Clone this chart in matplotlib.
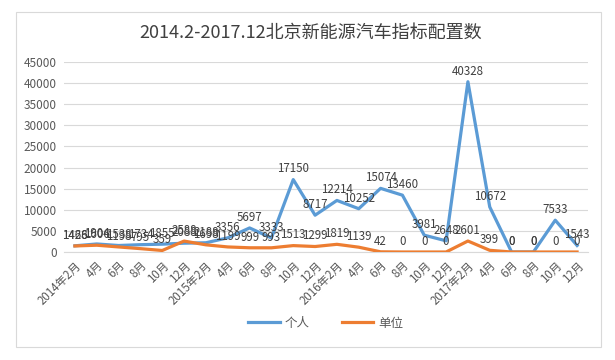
import matplotlib
matplotlib.use("Agg")
import matplotlib.pyplot as plt
from matplotlib.patches import Rectangle

plt.rcParams['font.family'] = ['Noto Sans CJK SC', 'DejaVu Sans']

categories = ["2014年2月", "4月", "6月", "8月", "10月", "12月",
              "2015年2月", "4月", "6月", "8月", "10月", "12月",
              "2016年2月", "4月", "6月", "8月", "10月", "12月",
              "2017年2月", "4月", "6月", "8月", "10月", "12月"]
personal = [1466, 1904, 1538, 1734, 1855, 2088, 2188, 3356, 5697, 3333, 17150, 8717,
            12214, 10252, 15074, 13460, 3981, 2648, 40328, 10672, 0, 0, 7533, 1543]
company = [1428, 1606, 1198, 795, 359, 2588, 1698, 1199, 999, 993, 1513, 1299,
           1819, 1139, 42, 0, 0, 0, 2601, 399, 0, 0, 0, 0]
series_names = ["个人", "单位"]
yticks = [0, 5000, 10000, 15000, 20000, 25000, 30000, 35000, 40000, 45000]
title = "2014.2-2017.12北京新能源汽车指标配置数"

blue = "#5B9BD5"
orange = "#ED7D31"
txt = "#404040"

fig = plt.figure(figsize=(6.15, 3.6), dpi=100)
fig.patch.set_facecolor("white")
fig.patches.append(Rectangle((16/615, 1-347/360), (601-16)/615, (347-12)/360,
                             transform=fig.transFigure, fill=False,
                             edgecolor="#D9D9D9", lw=0.8))

ax = fig.add_axes([64/615, 1-252/360, (588-64)/615, (252-62)/360])
x = list(range(len(categories)))
l1, = ax.plot(x, personal, color=blue, lw=2.3, solid_joinstyle='round', zorder=3)
l2, = ax.plot(x, company, color=orange, lw=2.3, solid_joinstyle='round', zorder=4)

for xi, v in zip(x, personal):
    ax.annotate(str(v), (xi, v), xytext=(0, 3), textcoords='offset points',
                ha='center', va='bottom', fontsize=8.3, color=txt, zorder=5)
for xi, v in zip(x, company):
    ax.annotate(str(v), (xi, v), xytext=(0, 3), textcoords='offset points',
                ha='center', va='bottom', fontsize=8.3, color=txt, zorder=5)

ax.set_xlim(-0.5, len(categories) - 0.5)
ax.set_ylim(0, 45000)
ax.set_yticks(yticks)
ax.set_yticklabels([str(t) for t in yticks], fontsize=8.5, color="#595959")
ax.set_xticks(x)
ax.set_xticklabels(categories, rotation=45, ha='right', rotation_mode='anchor',
                   fontsize=8.3, color="#595959")
ax.tick_params(axis='y', length=0, pad=5)
ax.tick_params(axis='x', length=0, pad=5)
ax.grid(axis='y', color="#D9D9D9", lw=0.8)
ax.set_axisbelow(True)
for s in ['top', 'right', 'left']:
    ax.spines[s].set_visible(False)
ax.spines['bottom'].set_color("#D9D9D9")
ax.spines['bottom'].set_linewidth(0.8)

fig.text(0.505, 1-33/360, title, ha='center', va='center', fontsize=13, color="#404040")

fig.legend([l1, l2], series_names, loc='center', bbox_to_anchor=(0.53, 1-323/360),
           ncol=2, frameon=False, fontsize=9, handlelength=2.5, columnspacing=2.6,
           handletextpad=0.4, labelcolor="#595959")

fig.savefig("out.png", dpi=100)
